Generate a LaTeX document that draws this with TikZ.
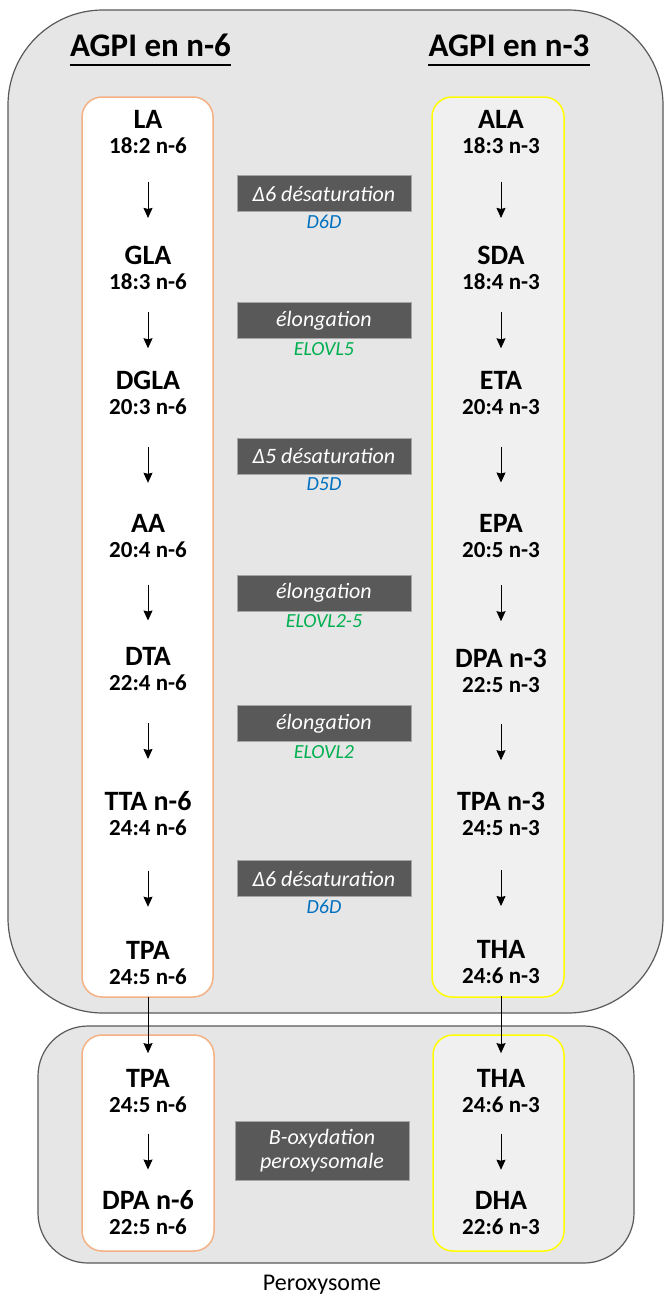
\documentclass[tikz,border=0pt]{standalone}
\usepackage{fontspec}
\setmainfont{Carlito}
\usepackage{tikz}
\usetikzlibrary{shapes,arrows.meta,positioning,calc}

\definecolor{framegrey}{HTML}{E6E6E6}
\definecolor{framedraw}{HTML}{595959}
\definecolor{stepgrey}{HTML}{595959}
\definecolor{stepedge}{HTML}{A6A6A6}
\definecolor{omegasix}{HTML}{F4B183}
\definecolor{omegathree}{HTML}{FFFF00}
\definecolor{omegafill}{HTML}{F0F0F0}
\definecolor{desatblue}{HTML}{0070C0}
\definecolor{elonggreen}{HTML}{00B050}

\begin{document}
\begin{tikzpicture}[x=1pt, y=-1pt, >={Stealth[length=10pt,width=9pt,inset=1pt]},
    acid/.style={align=center, inner sep=0pt, font=\fontsize{28}{25}\selectfont\bfseries},
    stepbox/.style={draw=stepedge, fill=stepgrey, text=white, line width=0.8pt, minimum width=174pt, minimum height=36pt, inner sep=0pt, font=\fontsize{22}{26}\selectfont\itshape},
    enzyme/.style={below=3pt, inner sep=0pt, font=\fontsize{20}{22}\selectfont\itshape},
    header/.style={anchor=base, inner sep=0pt, font=\fontsize{33}{36}\selectfont\bfseries},
    flow/.style={->, line width=0.9pt}]
    \useasboundingbox (0,0) rectangle (665,1298);

    % compartments
    \draw[fill=framegrey, draw=framedraw, line width=1.2pt, rounded corners=95pt] (8,10) rectangle (663,1013);
    \draw[fill=framegrey, draw=framedraw, line width=1.2pt, rounded corners=50pt] (38,1026) rectangle (634,1263);
    \draw[fill=white, draw=omegasix, line width=1.5pt, rounded corners=20pt] (82,97) rectangle (213,997);
    \draw[fill=omegafill, draw=omegathree, line width=1.5pt, rounded corners=20pt] (432,97) rectangle (564,997);
    \draw[fill=white, draw=omegasix, line width=1.5pt, rounded corners=20pt] (82,1035) rectangle (214,1251);
    \draw[fill=omegafill, draw=omegathree, line width=1.5pt, rounded corners=20pt] (433,1035) rectangle (564,1251);

    % titles
    \node[header] (n6head) at (150.5,57) {AGPI en n-6};
    \node[header] (n3head) at (509,57) {AGPI en n-3};
    \draw[line width=2pt] ([yshift=-8pt]n6head.base west) -- ([yshift=-8pt]n6head.base east);
    \draw[line width=2pt] ([yshift=-8pt]n3head.base west) -- ([yshift=-8pt]n3head.base east);

    % n-6 series
    \node[acid] (la) at (148,132.5) {LA\\{\fontsize{23}{25}\selectfont 18:2 n-6}};
    \node[acid] (gla) at (148,267.5) {GLA\\{\fontsize{23}{25}\selectfont 18:3 n-6}};
    \node[acid] (dgla) at (148,393) {DGLA\\{\fontsize{23}{25}\selectfont 20:3 n-6}};
    \node[acid] (aa) at (148,536.5) {AA\\{\fontsize{23}{25}\selectfont 20:4 n-6}};
    \node[acid] (dta) at (148,668.5) {DTA\\{\fontsize{23}{25}\selectfont 22:4 n-6}};
    \node[acid] (tta) at (148,814) {TTA n-6\\{\fontsize{23}{25}\selectfont 24:4 n-6}};
    \node[acid] (tpasix) at (148,963) {TPA\\{\fontsize{23}{25}\selectfont 24:5 n-6}};
    \node[acid] (tpasixp) at (148,1091) {TPA\\{\fontsize{23}{25}\selectfont 24:5 n-6}};
    \node[acid] (dpasix) at (148,1212.5) {DPA n-6\\{\fontsize{23}{25}\selectfont 22:5 n-6}};

    % n-3 series
    \node[acid] (ala) at (501,132.5) {ALA\\{\fontsize{23}{25}\selectfont 18:3 n-3}};
    \node[acid] (sda) at (501,267.5) {SDA\\{\fontsize{23}{25}\selectfont 18:4 n-3}};
    \node[acid] (eta) at (501,393) {ETA\\{\fontsize{23}{25}\selectfont 20:4 n-3}};
    \node[acid] (epa) at (501,536) {EPA\\{\fontsize{23}{25}\selectfont 20:5 n-3}};
    \node[acid] (dpathree) at (501,670.5) {DPA n-3\\{\fontsize{23}{25}\selectfont 22:5 n-3}};
    \node[acid] (tpathree) at (501,814) {TPA n-3\\{\fontsize{23}{25}\selectfont 24:5 n-3}};
    \node[acid] (tha) at (501,962) {THA\\{\fontsize{23}{25}\selectfont 24:6 n-3}};
    \node[acid] (thap) at (501,1091) {THA\\{\fontsize{23}{25}\selectfont 24:6 n-3}};
    \node[acid] (dha) at (501,1212.5) {DHA\\{\fontsize{23}{25}\selectfont 22:6 n-3}};

    % enzymatic steps
    \node[stepbox] (desatA) at (324,193.5) {Δ6 désaturation};
    \node[enzyme, text=desatblue] (dsixA) [below=3pt of desatA] {D6D};
    \node[stepbox] (elongA) at (324,320.5) {élongation};
    \node[enzyme, text=elonggreen] (elovlfive) [below=3pt of elongA] {ELOVL5};
    \node[stepbox] (desatB) at (324,456) {Δ5 désaturation};
    \node[enzyme, text=desatblue] (dfive) [below=3pt of desatB] {D5D};
    \node[stepbox] (elongB) at (324,593) {élongation};
    \node[enzyme, text=elonggreen] (elovltwofive) [below=3pt of elongB] {ELOVL2-5};
    \node[stepbox] (elongC) at (324,723.5) {élongation};
    \node[enzyme, text=elonggreen] (elovltwo) [below=3pt of elongC] {ELOVL2};
    \node[stepbox] (desatC) at (324,878.5) {Δ6 désaturation};
    \node[enzyme, text=desatblue] (dsixB) [below=3pt of desatC] {D6D};
    \node[stepbox, minimum height=59pt, align=center, font=\fontsize{22}{24}\selectfont\itshape] (betaox) at (322,1150.5) {B-oxydation\\peroxysomale};

    \node[font=\fontsize{24}{26}\selectfont, inner sep=0pt] (perox) at (322,1285) {Peroxysome};

    % conversions
    \foreach \a/\b in {la/gla, gla/dgla, dgla/aa, aa/dta, dta/tta, tta/tpasix, tpasixp/dpasix,
                       ala/sda, sda/eta, eta/epa, epa/dpathree, dpathree/tpathree, tpathree/tha, thap/dha}
        \draw[flow] ($(\a.south)!0.5!(\b.north)+(0,-18)$) -- ($(\a.south)!0.5!(\b.north)+(0,18)$);
    \draw[flow, shorten <=12pt, shorten >=16pt] (tpasix) -- (tpasixp);
    \draw[flow, shorten <=12pt, shorten >=16pt] (tha) -- (thap);
\end{tikzpicture}
\end{document}
